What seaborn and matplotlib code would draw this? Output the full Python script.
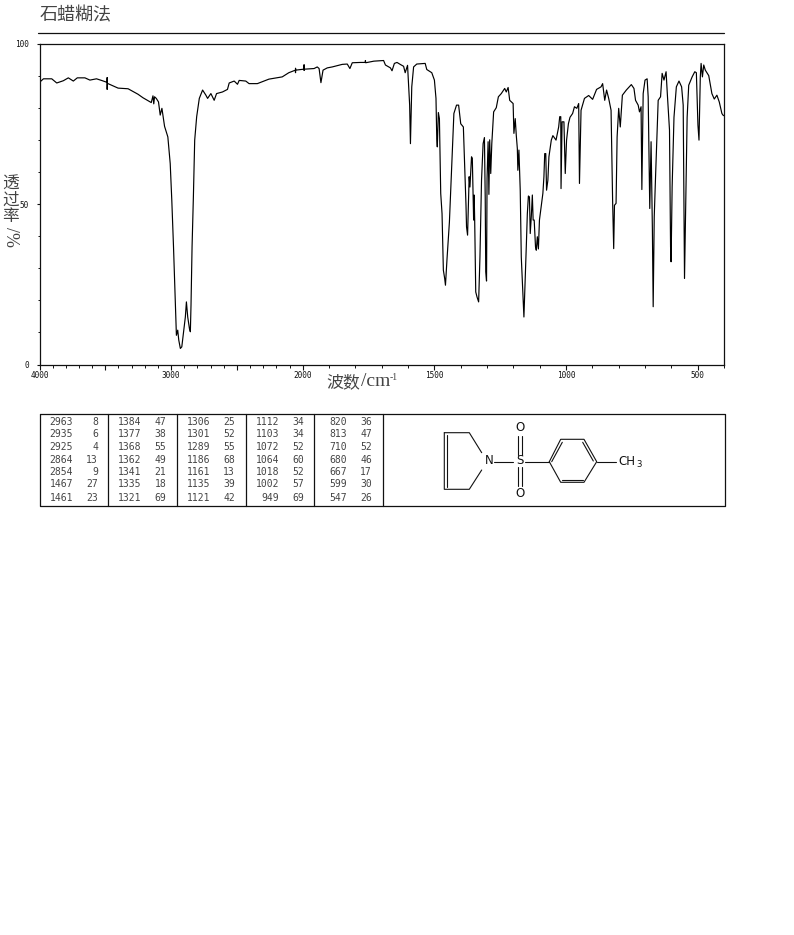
import numpy as np
import pandas as pd
import seaborn as sns
import matplotlib.pyplot as plt

# IR spectrum
wavenumber = [
    4000, 3970, 3907, 3869, 3819, 3781, 3743, 3713, 3655, 3617, 3567, 3529, 3487, 3486, 3486, 3485,
    3403, 3327, 3252, 3214, 3151, 3138, 3132, 3126, 3113, 3096, 3083, 3070, 3050, 3025, 3007, 2995,
    2982, 2970, 2960, 2950, 2942, 2930, 2919, 2907, 2892, 2884, 2874, 2861, 2854, 2849, 2841, 2831,
    2821, 2806, 2786, 2761, 2736, 2723, 2698, 2673, 2655, 2610, 2572, 2559, 2521, 2496, 2483, 2433,
    2408, 2345, 2257, 2156, 2106, 2056, 2055, 2055, 2054, 1996, 1995, 1995, 1994, 1957, 1945, 1938,
    1931, 1923, 1907, 1888, 1850, 1831, 1821, 1812, 1781, 1763, 1762, 1761, 1730, 1693, 1686, 1667,
    1661, 1652, 1642, 1630, 1617, 1611, 1602, 1594, 1591, 1586, 1579, 1567, 1535, 1529, 1510, 1500,
    1494, 1491, 1489, 1485, 1481, 1476, 1471, 1466, 1461, 1458, 1452, 1443, 1435, 1426, 1416, 1408,
    1400, 1390, 1384, 1380, 1378, 1374, 1370, 1368, 1365, 1359, 1356, 1351, 1349, 1347, 1343, 1338,
    1332, 1327, 1321, 1315, 1310, 1307, 1305, 1302, 1300, 1296, 1293, 1290, 1286, 1282, 1275, 1265,
    1257, 1246, 1233, 1227, 1220, 1214, 1201, 1198, 1193, 1189, 1185, 1183, 1179, 1174, 1170, 1164,
    1160, 1156, 1151, 1147, 1143, 1139, 1136, 1132, 1128, 1125, 1121, 1116, 1113, 1109, 1105, 1101,
    1094, 1088, 1084, 1081, 1077, 1074, 1069, 1065, 1056, 1050, 1038, 1028, 1024, 1020, 1019, 1015,
    1008, 1003, 998, 991, 985, 975, 968, 959, 952, 949, 943, 930, 914, 899, 884, 867, 861, 853, 846,
    838, 829, 823, 819, 816, 810, 806, 800, 794, 786, 771, 752, 742, 736, 726, 721, 715, 712, 707,
    700, 692, 688, 682, 677, 672, 669, 665, 660, 650, 641, 635, 628, 620, 615, 607, 603, 601, 597,
    590, 581, 571, 561, 555, 552, 550, 546, 540, 534, 521, 511, 505, 499, 495, 490, 487, 482, 477,
    471, 458, 446, 437, 427, 418, 408, 404, 400,
]
transmittance = [
    87.9, 89.0, 89.0, 87.7, 88.4, 89.3, 88.3, 89.3, 89.3, 88.6, 89.0, 88.5, 87.9, 89.4, 85.7, 87.6,
    86.1, 85.9, 84.2, 83.1, 81.6, 83.7, 81.2, 83.4, 82.9, 81.8, 77.7, 79.8, 74.2, 70.9, 62.6, 51.2,
    36.7, 22.1, 9.1, 10.7, 7.6, 5.0, 5.5, 9.7, 14.8, 19.5, 14.8, 11.2, 10.2, 18.5, 36.7, 52.2,
    69.9, 77.2, 82.9, 85.5, 83.9, 82.9, 84.4, 82.3, 84.4, 84.9, 85.7, 87.7, 88.3, 87.3, 88.5, 88.3,
    87.5, 87.5, 88.9, 89.6, 90.9, 91.7, 90.9, 92.3, 91.7, 92.0, 93.4, 91.6, 92.0, 92.2, 92.7, 92.2,
    87.8, 91.7, 92.4, 92.7, 93.5, 93.6, 92.2, 94.0, 94.1, 94.1, 94.7, 94.0, 94.5, 94.7, 93.3, 92.4,
    91.5, 93.8, 94.1, 93.5, 92.9, 90.9, 93.2, 80.8, 68.8, 86.5, 92.7, 93.6, 93.8, 91.9, 90.9, 88.6,
    82.9, 70.4, 67.8, 78.5, 76.6, 53.3, 47.0, 29.4, 26.8, 24.7, 33.0, 44.4, 60.5, 78.2, 80.8, 80.8,
    75.0, 74.0, 59.0, 49.6, 42.9, 40.3, 52.2, 58.5, 55.3, 64.7, 64.2, 45.0, 52.8, 45.0, 22.6, 21.0,
    19.5, 33.5, 57.4, 68.8, 70.7, 52.0, 28.9, 26.0, 58.0, 69.4, 53.0, 70.0, 59.5, 68.8, 78.7, 80.0,
    83.4, 84.4, 86.0, 84.9, 86.3, 82.3, 81.3, 72.0, 76.6, 71.4, 67.3, 60.5, 66.8, 54.3, 33.5, 22.0,
    14.8, 24.2, 36.7, 47.0, 52.5, 52.2, 40.8, 46.0, 52.8, 45.0, 45.0, 36.7, 35.6, 39.8, 36.0, 45.0,
    49.6, 53.3, 58.5, 65.7, 65.7, 54.3, 57.4, 64.7, 69.9, 71.3, 69.9, 74.0, 77.2, 77.2, 54.8, 75.6,
    75.6, 59.5, 69.9, 75.0, 77.0, 78.2, 80.3, 79.8, 81.3, 56.4, 79.2, 82.9, 83.8, 82.6, 85.7, 86.5, 87.5, 82.3, 85.5,
    82.9, 79.2, 50.7, 36.1, 49.6, 50.2, 70.9, 79.8, 74.0, 83.9, 85.5, 87.2, 86.0, 82.3, 80.8, 78.7, 80.3, 54.5, 84.4,
    88.6, 89.0, 83.4, 48.6, 69.4, 42.0, 18.0, 46.0, 58.5, 82.3, 83.4, 90.7, 88.6, 91.2, 83.9, 73.0, 36.7, 32.0, 55.3,
    77.0, 86.5, 88.3, 86.5, 80.8, 47.0, 26.8, 47.0, 77.0, 87.0, 89.6, 91.2, 90.9, 74.6, 69.9, 89.6, 93.8, 89.6, 93.3,
    91.7, 90.0, 84.4, 82.7, 83.9, 81.8, 78.2, 77.7, 77.5,
]

# peak table
peak_wn = [
    [2963, 2935, 2925, 2864, 2854, 1467, 1461],
    [1384, 1377, 1368, 1362, 1341, 1335, 1321],
    [1306, 1301, 1289, 1186, 1161, 1135, 1121],
    [1112, 1103, 1072, 1064, 1018, 1002, 949],
    [820, 813, 710, 680, 667, 599, 547],
]
peak_t = [
    [8, 6, 4, 13, 9, 27, 23],
    [47, 38, 55, 49, 21, 18, 69],
    [25, 52, 55, 68, 13, 39, 42],
    [34, 34, 52, 60, 52, 57, 69],
    [36, 47, 52, 46, 17, 30, 26],
]
x_ticks = [4000, 3500, 3000, 2500, 2000, 1500, 1000, 500]
x_labels = ["4000", "", "3000", "", "2000", "1500", "1000", "500"]
y_ticks = [0, 50, 100]

W, H = 794, 935
sns.set_style("white")
plt.rcParams["font.family"] = ["Noto Sans CJK SC", "DejaVu Sans"]
INK = "#111111"
GREY = "#444444"
SERIF = "Liberation Serif"


def forward(v):
    # the instrument chart switches to half the scale above 2000
    v = np.asarray(v, dtype=float)
    return np.where(v <= 2000, v, 2000 + (v - 2000) / 2)


def inverse(v):
    v = np.asarray(v, dtype=float)
    return np.where(v <= 2000, v, 2000 + (v - 2000) * 2)


fig = plt.figure(figsize=(W / 100, H / 100), dpi=100)
ax = fig.add_axes([39.5 / W, 1 - 364.5 / H, (724 - 39.5) / W, (364.5 - 43.5) / H])

df = pd.DataFrame({"wn": wavenumber, "t": transmittance})
sns.lineplot(data=df, x="wn", y="t", sort=False, estimator=None, color="black", lw=0.85, ax=ax)

ax.set_xscale("function", functions=(forward, inverse))
ax.set_xlim(4000, 400)
ax.set_ylim(0, 100)
ax.set_xticks(x_ticks)
ax.set_xticklabels(x_labels, family="DejaVu Sans Mono", fontsize=5.6, color=INK)
ax.set_xticks(np.arange(400, 4000, 100), minor=True)
ax.set_yticks(y_ticks)
ax.set_yticklabels([str(v) for v in y_ticks], family="DejaVu Sans Mono", fontsize=5.6, color=INK)
ax.set_yticks(np.arange(0, 101, 10), minor=True)
ax.tick_params(axis="x", which="major", length=3.4, width=0.8, color=INK, pad=1, bottom=True)
ax.tick_params(axis="x", which="minor", length=2, width=0.7, color=INK, bottom=True)
ax.tick_params(axis="y", which="major", length=2, width=0.8, color=INK, pad=5.5, left=True)
ax.tick_params(axis="y", which="minor", length=1.2, width=0.7, color=INK, left=True)
ax.set_xlabel("")
ax.set_ylabel("")
for s in ax.spines.values():
    s.set_color(INK)
    s.set_linewidth(0.9)

# overlay in pixel coordinates for the page furniture
pg = fig.add_axes([0, 0, 1, 1], facecolor="none")
pg.set_xlim(0, W)
pg.set_ylim(H, 0)
pg.axis("off")

pg.text(40, 15, "石蜡糊法", fontsize=13, color=GREY, va="center", ha="left")
pg.plot([38, 724], [32.5, 32.5], color=INK, lw=0.9)
pg.text(326, 382, "波数", fontsize=12.2, color=GREY, va="center", ha="left")
pg.text(361, 382, "/cm", fontsize=14, color=GREY, va="center", ha="left", family=SERIF)
pg.text(389.5, 377, "-1", fontsize=7, color=GREY, va="center", ha="left", family=SERIF)
for ch, cy in zip("透过率", [184, 200, 216]):
    pg.text(10.5, cy, ch, fontsize=12, color=GREY, va="center", ha="center")
pg.text(10.5, 237, "/%", fontsize=13, color=GREY, va="center", ha="center", rotation=270, family=SERIF)

# table
left, right, top, bottom = 39.5, 724.5, 413.5, 505.5
pg.plot([left, right, right, left, left], [top, top, bottom, bottom, top], color=INK, lw=0.9)
col_x = [39.5, 108, 176.5, 245.5, 313.5]
for cx in col_x[1:] + [382.5]:
    pg.plot([cx, cx], [top, bottom], color=INK, lw=0.9)
row_y = [421.7, 434.3, 447.3, 459.7, 472, 484.3, 497.7]
for cx, wns, ts in zip(col_x, peak_wn, peak_t):
    for ry, a, b in zip(row_y, wns, ts):
        pg.text(cx + 33.5, ry, str(a), family="DejaVu Sans Mono", fontsize=7, color=GREY, ha="right", va="center")
        pg.text(cx + 58.5, ry, str(b), family="DejaVu Sans Mono", fontsize=7, color=GREY, ha="right", va="center")

# structure
bonds = [
    [(444.3, 432.7), (469.3, 432.7), (481.7, 452.7)],
    [(481.7, 470), (469.3, 489.3), (444.3, 489.3), (444.3, 432.7)],
    [(447.3, 435), (447.3, 486.7)],
    [(494, 461.7), (513.3, 461.7)],
    [(525, 461.7), (549.3, 461.7)],
    [(518.3, 435.7), (518.3, 455)],
    [(521.7, 435.7), (521.7, 455)],
    [(518.3, 466.7), (518.3, 486)],
    [(521.7, 466.7), (521.7, 486)],
    [(549.3, 461.7), (560.7, 439.3), (584, 439.3), (596.7, 461.7), (584, 482.3), (560.7, 482.3), (549.3, 461.7)],
    [(551.7, 461.7), (562.3, 442.3)],
    [(582.7, 442.3), (593.3, 461)],
    [(562.3, 480), (582.7, 480)],
    [(596.7, 461.7), (616, 461.7)],
]
for b in bonds:
    xs, ys = zip(*b)
    pg.plot(xs, ys, color=INK, lw=0.8)
for tx, ty, label in [(489.3, 461, "N"), (520, 461, "S"), (520, 427.7, "O"), (520, 493.3, "O")]:
    pg.text(tx, ty, label, family="DejaVu Sans", fontsize=8.5, color=INK, ha="center", va="center")
pg.text(618, 461.5, "CH", family="DejaVu Sans", fontsize=8.5, color=INK, ha="left", va="center")
pg.text(636, 464.5, "3", family="DejaVu Sans", fontsize=6.2, color=INK, ha="left", va="center")

fig.savefig("out.png", dpi=100, facecolor="white")
